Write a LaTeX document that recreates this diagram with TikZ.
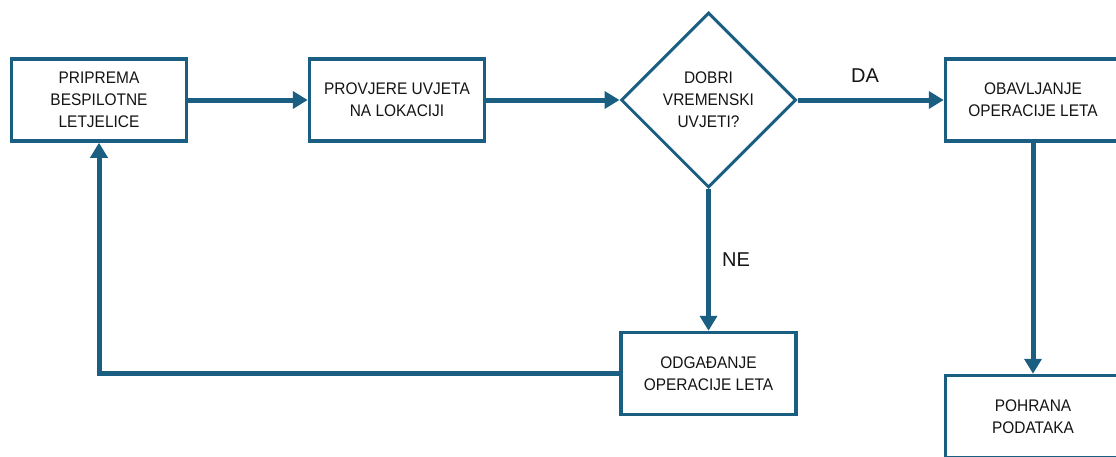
\documentclass[tikz,border=0pt]{standalone}
\usepackage{fontspec}
\setmainfont{Liberation Sans}[FakeStretch=0.92]
\newfontfamily\labelfont{Liberation Sans}
\usetikzlibrary{arrows.meta,shapes.geometric}
\definecolor{flow}{RGB}{26,95,130}
\definecolor{ink}{RGB}{20,20,20}
\begin{document}
\begin{tikzpicture}[x=1pt,y=-1pt,
  box/.style={draw=flow, line width=3.5pt, rectangle, minimum width=175pt, minimum height=82pt,
    inner sep=0pt, align=center, text=ink, font=\fontsize{16.8}{22}\selectfont},
  decision/.style={draw=flow, line width=3pt, diamond, aspect=1, minimum width=175pt, minimum height=175pt,
    inner sep=0pt, align=center, text=ink, font=\fontsize{16.8}{22}\selectfont},
  conn/.style={draw=flow, line width=5pt, -{Triangle[length=15pt,width=17pt]}},
  lbl/.style={text=ink, font=\labelfont\fontsize{20}{24}\selectfont, inner sep=0pt}]
\useasboundingbox (0,0) rectangle (1116,456);
\clip (0,0) rectangle (1116,456);
\node[box] (b1) at (99,100) {PRIPREMA\\BESPILOTNE\\LETJELICE};
\node[box] (b2) at (397,100) {PROVJERE UVJETA\\NA LOKACIJI};
\node[decision] (d) at (708.5,100) {DOBRI\\VREMENSKI\\UVJETI?};
\node[box] (b4) at (1033,100) {OBAVLJANJE\\OPERACIJE LETA};
\node[box] (b5) at (708.5,373.5) {ODGAĐANJE\\OPERACIJE LETA};
\node[box] (b6) at (1033,416.5) {POHRANA\\PODATAKA};
\draw[conn] (b1.east) -- (b2.west);
\draw[conn] (b2.east) -- (d.west);
\draw[conn] (d.east) -- (b4.west);
\draw[conn] (d.south) -- (b5.north);
\draw[conn] (b4.south) -- (b6.north);
\draw[conn] (b5.west) -| (b1.south);
\node[lbl] (da) at (865,76) {DA};
\node[lbl] (ne) at (736,260) {NE};
\end{tikzpicture}
\end{document}
